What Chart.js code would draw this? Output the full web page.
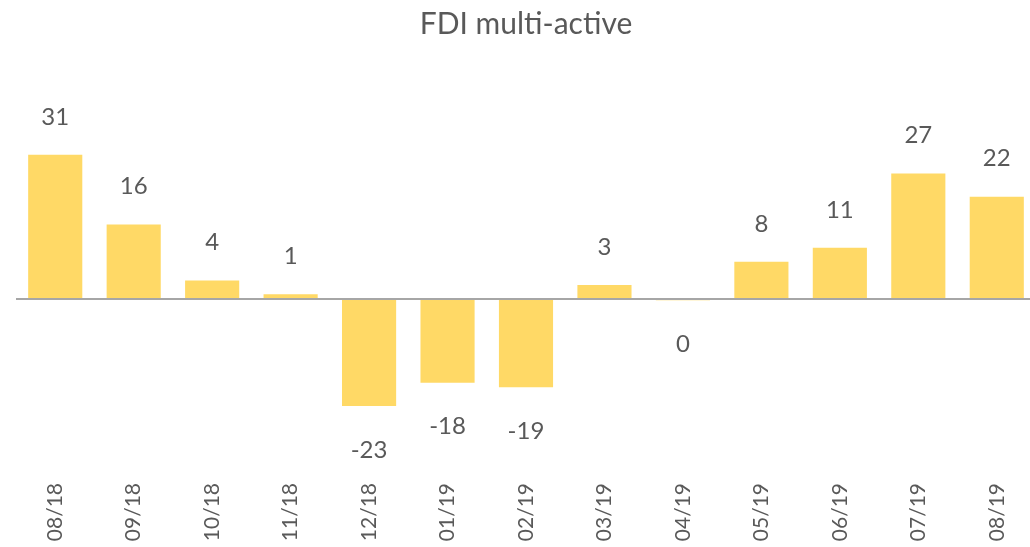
<!DOCTYPE html>
<html>
<head>
<meta charset="utf-8">
<script src="https://cdn.jsdelivr.net/npm/chart.js@4.4.0/dist/chart.umd.min.js"></script>
<style>
    html, body { margin: 0; padding: 0; background: #fff; overflow: hidden; }
    .chartWrap { position: relative; width: 1036px; height: 547px; }
</style>
</head>
<body>
<div class="chartWrap">
    <canvas id="fdi-chart"></canvas>
</div>
<script>
const months = ['08/18', '09/18', '10/18', '11/18', '12/18', '01/19', '02/19',
    '03/19', '04/19', '05/19', '06/19', '07/19', '08/19'];
const fdiValues = [31, 16, 4, 1, -23, -18, -19, 3, -0.3, 8, 11, 27, 22];

const textColor = '#595959';
const fontFamily = 'Lato, "Open Sans", sans-serif';

// value labels above positive bars, below negative ones
const barLabels = {
    id: 'barLabels',
    afterDatasetsDraw(chart) {
        const ctx = chart.ctx;
        const meta = chart.getDatasetMeta(0);
        ctx.save();
        ctx.font = '24px ' + fontFamily;
        ctx.fillStyle = textColor;
        ctx.textAlign = 'center';
        ctx.textBaseline = 'middle';
        meta.data.forEach(function (bar, i) {
            const v = fdiValues[i];
            const txt = String(Math.round(v));
            const y = v > 0 ? bar.y - 38 : bar.y + 44;
            ctx.fillText(txt === '-0' ? '0' : txt, bar.x, y);
        });
        ctx.restore();
    }
};

document.addEventListener('DOMContentLoaded', function () {
    const ctx = document.getElementById('fdi-chart').getContext('2d');
    new Chart(ctx, {
        type: 'bar',
        data: {
            labels: months,
            datasets: [{
                label: 'FDI multi-active',
                data: fdiValues,
                backgroundColor: '#FFD966',
                borderWidth: 0,
                categoryPercentage: 1,
                barPercentage: 0.69
            }]
        },
        options: {
            responsive: true,
            maintainAspectRatio: false,
            animation: false,
            layout: { padding: { left: 16, right: 0, top: 0, bottom: 0 } },
            plugins: {
                legend: { display: false },
                tooltip: { enabled: false },
                title: {
                    display: true,
                    text: 'FDI multi-active',
                    color: textColor,
                    font: { family: fontFamily, size: 30, weight: 'normal' },
                    padding: { top: 6, bottom: 71 }
                }
            },
            scales: {
                x: {
                    grid: { display: false },
                    border: { display: false },
                    ticks: {
                        color: textColor,
                        font: { family: fontFamily, size: 21 },
                        minRotation: 90,
                        maxRotation: 90,
                        padding: 4
                    },
                    afterFit: function (scale) {
                        scale.height = 76;
                    }
                },
                y: {
                    min: -37,
                    max: 40,
                    border: { display: false },
                    grid: {
                        drawTicks: false,
                        lineWidth: 2,
                        color: function (c) {
                            return c.tick && c.tick.value === 0 ? '#A6A6A6' : 'rgba(0,0,0,0)';
                        }
                    },
                    ticks: { display: false, stepSize: 1 }
                }
            }
        },
        plugins: [barLabels]
    });
});
</script>
</body>
</html>
